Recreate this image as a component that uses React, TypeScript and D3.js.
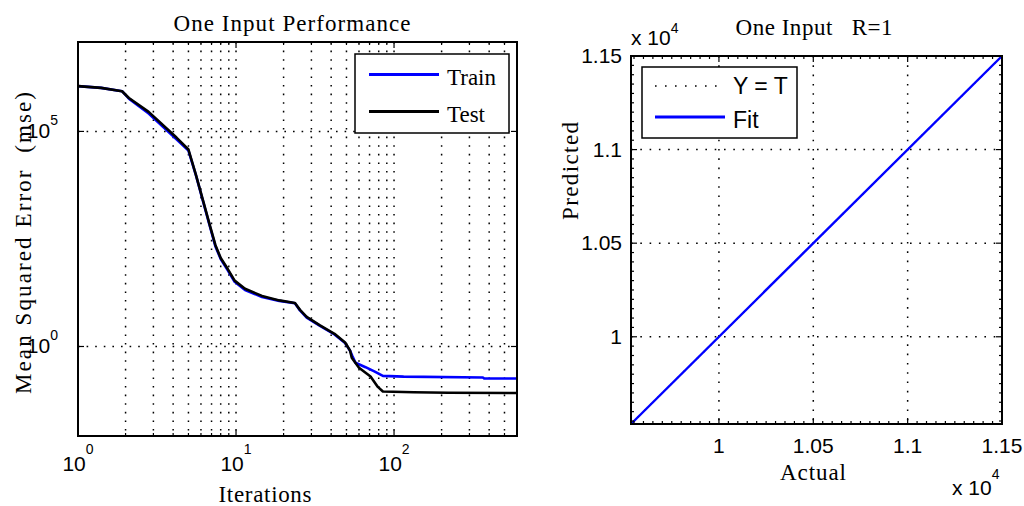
import React from 'react';
import * as d3 from 'd3';

// performance curves (epoch, mean squared error)
const trainEpochs = [1, 1.4, 1.9, 2.1, 2.8, 4.2, 5.0, 5.58, 6.18, 6.85, 7.4, 8.0, 8.85, 9.8, 11.4, 14.6, 18.8, 23.6, 25.4, 28, 34, 42, 49, 52.7, 54.5, 57, 66, 75, 85, 115, 365, 372, 600];
const trainMse = [1.13e6, 1.03e6, 8.6e5, 5.8e5, 2.6e5, 6.6e4, 3.6e4, 9.5e3, 2.4e3, 600, 215, 108, 60, 32, 20.5, 14.2, 11.5, 10.1, 6.9, 4.7, 3.0, 1.9, 1.2, 0.8, 0.6, 0.42, 0.33, 0.263, 0.207, 0.199, 0.19, 0.18, 0.18];
const testEpochs = [1, 1.4, 1.9, 2.1, 2.8, 4.2, 5.0, 5.58, 6.18, 6.85, 7.4, 8.0, 8.85, 9.8, 11.4, 14.6, 18.8, 23.6, 25.4, 28, 34, 42, 49, 52.7, 54, 60, 71, 79, 85, 133, 220, 600];
const testMse = [1.13e6, 1.03e6, 8.6e5, 6.0e5, 2.85e5, 7.2e4, 3.8e4, 9.7e3, 2.5e3, 630, 230, 114, 64, 34, 22, 15, 11.8, 10.3, 7.1, 4.9, 3.1, 1.97, 1.24, 0.8, 0.55, 0.32, 0.2, 0.115, 0.09, 0.086, 0.084, 0.083];
const perfXDomain = [1, 600];
const perfYDomain = [8.3e-3, 1.2e7];
const perfXTicks = [1, 10, 100];
const perfXExp = ['0', '1', '2'];
const perfYTicks = [1, 1e5];
const perfYExp = ['0', '5'];

// regression plot: actual vs predicted (x 10^4)
const fitActual = [9534, 11500];
const fitPredicted = [9534, 11500];
const regDomain = [9534, 11500];
const regTicks = [10000, 10500, 11000, 11500];
const regTickLabels = ['1', '1.05', '1.1', '1.15'];

const SERIF = '"Liberation Serif", "Times New Roman", serif';
const SANS = '"Liberation Sans", Arial, sans-serif';
const BLUE = '#0000ff';

const App = () => {
  // left plot box
  const L = { x0: 78, x1: 517, y0: 42, y1: 436 };
  // right plot box
  const R = { x0: 631, x1: 1002, y0: 56, y1: 424 };

  const xPerf = d3.scaleLog().domain(perfXDomain).range([L.x0, L.x1]);
  const yPerf = d3.scaleLog().domain(perfYDomain).range([L.y1, L.y0]);
  const xReg = d3.scaleLinear().domain(regDomain).range([R.x0, R.x1]);
  const yReg = d3.scaleLinear().domain(regDomain).range([R.y1, R.y0]);

  const perfLine = d3
    .line<[number, number]>()
    .x((d) => xPerf(d[0]))
    .y((d) => yPerf(d[1]));
  const trainPath = perfLine(trainEpochs.map((e, i) => [e, trainMse[i]]) as [number, number][]);
  const testPath = perfLine(testEpochs.map((e, i) => [e, testMse[i]]) as [number, number][]);

  const regLine = d3
    .line<[number, number]>()
    .x((d) => xReg(d[0]))
    .y((d) => yReg(d[1]));
  const fitPath = regLine(fitActual.map((a, i) => [a, fitPredicted[i]]) as [number, number][]);
  const identPath = regLine(fitActual.map((a) => [a, a]) as [number, number][]);

  const perfMinor = xPerf.ticks().filter((d) => d > perfXDomain[0] && d < perfXDomain[1]);
  const regMinor = xReg.ticks(40);

  const dotted = { stroke: '#000', strokeWidth: 1.5, strokeDasharray: '1.6 7' };

  return (
    <svg width={1024} height={506} style={{ position: 'absolute', left: 0, top: 0, background: '#fff' }}>
      <rect x={0} y={0} width={1024} height={506} fill="#fff" />

      {/* ---------- left: performance ---------- */}
      <g>
        {perfMinor.map((d) => (
          <line key={'gx' + d} x1={xPerf(d)} x2={xPerf(d)} y1={L.y0} y2={L.y1} {...dotted} />
        ))}
        {perfYTicks.map((d) => (
          <line key={'gy' + d} x1={L.x0} x2={L.x1} y1={yPerf(d)} y2={yPerf(d)} {...dotted} />
        ))}
        <path d={trainPath || ''} fill="none" stroke={BLUE} strokeWidth={2.6} strokeLinejoin="round" />
        <path d={testPath || ''} fill="none" stroke="#000" strokeWidth={2.6} strokeLinejoin="round" />

        {/* ticks */}
        {perfMinor.map((d) => {
          const major = perfXTicks.includes(d);
          const len = major ? 6 : 3;
          return (
            <g key={'tx' + d} stroke="#000" strokeWidth={1.2}>
              <line x1={xPerf(d)} x2={xPerf(d)} y1={L.y1} y2={L.y1 - len} />
              <line x1={xPerf(d)} x2={xPerf(d)} y1={L.y0} y2={L.y0 + len} />
            </g>
          );
        })}
        {perfYTicks.map((d) => (
          <g key={'ty' + d} stroke="#000" strokeWidth={1.2}>
            <line x1={L.x0} x2={L.x0 + 6} y1={yPerf(d)} y2={yPerf(d)} />
            <line x1={L.x1} x2={L.x1 - 6} y1={yPerf(d)} y2={yPerf(d)} />
          </g>
        ))}
        <rect x={L.x0} y={L.y0} width={L.x1 - L.x0} height={L.y1 - L.y0} fill="none" stroke="#000" strokeWidth={2} />

        {/* tick labels */}
        {perfXTicks.map((d, i) => (
          <text key={'lx' + d} x={xPerf(d)} y={471} textAnchor="middle" fontFamily={SANS} fontSize={21} fill="#000">
            10<tspan dy={-17} fontSize={14}>{perfXExp[i]}</tspan>
          </text>
        ))}
        {perfYTicks.map((d, i) => (
          <text key={'ly' + d} x={58} y={yPerf(d) + 7} textAnchor="end" fontFamily={SANS} fontSize={21} fill="#000">
            10<tspan dy={-13} fontSize={14}>{perfYExp[i]}</tspan>
          </text>
        ))}

        <text x={292} y={31} textAnchor="middle" fontFamily={SERIF} fontSize={23} textLength={237} lengthAdjust="spacing">
          One Input Performance
        </text>
        <text x={265} y={502} textAnchor="middle" fontFamily={SERIF} fontSize={23} textLength={93} lengthAdjust="spacing">
          Iterations
        </text>
        <text
          transform="translate(31,243) rotate(-90)"
          textAnchor="middle"
          fontFamily={SERIF}
          fontSize={23}
          textLength={302}
          lengthAdjust="spacing"
          style={{ whiteSpace: 'pre' }}
        >
          Mean Squared Error  (mse)
        </text>

        {/* legend */}
        <rect x={355} y={54} width={154} height={79} fill="#fff" stroke="#000" strokeWidth={1.5} />
        <line x1={369} x2={439} y1={74.5} y2={74.5} stroke={BLUE} strokeWidth={3} />
        <line x1={369} x2={439} y1={111.5} y2={111.5} stroke="#000" strokeWidth={3} />
        <text x={447} y={84.5} fontFamily={SERIF} fontSize={23}>Train</text>
        <text x={447} y={121.5} fontFamily={SERIF} fontSize={23}>Test</text>
      </g>

      {/* ---------- right: regression ---------- */}
      <g>
        {regTicks.slice(0, -1).map((d) => (
          <g key={'rg' + d}>
            <line x1={xReg(d)} x2={xReg(d)} y1={R.y0} y2={R.y1} {...dotted} strokeDasharray="1.6 7.7" />
            <line x1={R.x0} x2={R.x1} y1={yReg(d)} y2={yReg(d)} {...dotted} strokeDasharray="1.6 7.7" />
          </g>
        ))}
        <path d={identPath || ''} fill="none" stroke="#000" strokeWidth={1.4} strokeDasharray="1.6 7.7" />
        <path d={fitPath || ''} fill="none" stroke={BLUE} strokeWidth={2.4} />

        {regMinor.map((d) => {
          const len = regTicks.includes(d) ? 6 : 3;
          return (
            <g key={'rt' + d} stroke="#000" strokeWidth={1.2}>
              <line x1={xReg(d)} x2={xReg(d)} y1={R.y1} y2={R.y1 - len} />
              <line x1={xReg(d)} x2={xReg(d)} y1={R.y0} y2={R.y0 + len} />
              <line x1={R.x0} x2={R.x0 + len} y1={yReg(d)} y2={yReg(d)} />
              <line x1={R.x1} x2={R.x1 - len} y1={yReg(d)} y2={yReg(d)} />
            </g>
          );
        })}
        <rect x={R.x0} y={R.y0} width={R.x1 - R.x0} height={R.y1 - R.y0} fill="none" stroke="#000" strokeWidth={2} />

        {regTicks.map((d, i) => (
          <text key={'rx' + d} x={xReg(d)} y={453} textAnchor="middle" fontFamily={SANS} fontSize={21}>
            {regTickLabels[i]}
          </text>
        ))}
        {regTicks.map((d, i) => (
          <text key={'ry' + d} x={622} y={yReg(d) + 7} textAnchor="end" fontFamily={SANS} fontSize={21}>
            {regTickLabels[i]}
          </text>
        ))}
        <text x={631} y={45} fontFamily={SANS} fontSize={21}>
          x 10<tspan dy={-12} fontSize={14}>4</tspan>
        </text>
        <text x={952} y={495} fontFamily={SANS} fontSize={21}>
          x 10<tspan dy={-16} fontSize={14}>4</tspan>
        </text>

        <text x={814} y={35} textAnchor="middle" fontFamily={SERIF} fontSize={23} textLength={157} lengthAdjust="spacing" style={{ whiteSpace: 'pre' }}>
          One Input   R=1
        </text>
        <text x={813} y={480} textAnchor="middle" fontFamily={SERIF} fontSize={23} textLength={66} lengthAdjust="spacing">
          Actual
        </text>
        <text transform="translate(578,171) rotate(-90)" textAnchor="middle" fontFamily={SERIF} fontSize={23} textLength={98} lengthAdjust="spacing">
          Predicted
        </text>

        {/* legend */}
        <rect x={642} y={67} width={155} height={71} fill="#fff" stroke="#000" strokeWidth={1.5} />
        <line x1={655} x2={719} y1={86} y2={86} stroke="#000" strokeWidth={1.5} strokeDasharray="1.6 8.4" />
        <line x1={655} x2={725} y1={117} y2={117} stroke={BLUE} strokeWidth={3} />
        <text x={733} y={94} fontFamily={SANS} fontSize={23} style={{ whiteSpace: 'pre' }}>Y = T</text>
        <text x={733} y={128} fontFamily={SANS} fontSize={23}>Fit</text>
      </g>
    </svg>
  );
};

export default App;
